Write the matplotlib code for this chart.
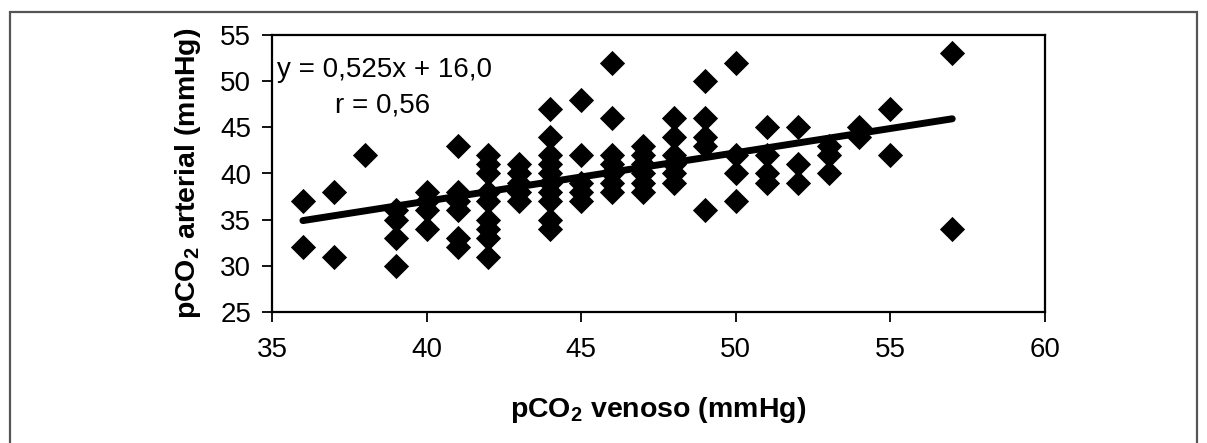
#!/usr/bin/env python3
"""pCO2 arterial vs venoso scatter with regression line."""
import matplotlib
matplotlib.use("Agg")
import matplotlib.pyplot as plt
from matplotlib.patches import Rectangle
import numpy as np

plt.rcParams.update({
    "font.family": ["Liberation Sans", "DejaVu Sans"],
    "mathtext.fontset": "custom",
    "mathtext.rm": "Liberation Sans",
    "mathtext.bf": "Liberation Sans:bold",
})

# venous pCO2 value of each column and the arterial values read in it
venoso = [36, 36, 37, 37, 38,
          39, 39, 39, 39,
          40, 40, 40, 40,
          41, 41, 41, 41, 41, 41,
          42, 42, 42, 42, 42, 42, 42, 42, 42,
          43, 43, 43, 43, 43,
          44, 44, 44, 44, 44, 44, 44, 44, 44, 44,
          45, 45, 45, 45, 45,
          46, 46, 46, 46, 46, 46, 46,
          47, 47, 47, 47, 47, 47,
          48, 48, 48, 48, 48, 48,
          49, 49, 49, 49, 49,
          50, 50, 50, 50,
          51, 51, 51, 51,
          52, 52, 52,
          53, 53, 53,
          54, 54,
          55, 55,
          57, 57]
arterial = [37, 32, 38, 31, 42,
            36, 35, 33, 30,
            38, 37, 36, 34,
            43, 38, 37, 36, 33, 32,
            42, 41, 40, 38, 37, 35, 34, 33, 31,
            41, 40, 39, 38, 37,
            47, 44, 42, 41, 40, 39, 38, 37, 35, 34,
            48, 42, 39, 38, 37,
            52, 46, 42, 41, 40, 39, 38,
            43, 42, 41, 40, 39, 38,
            46, 44, 42, 41, 40, 39,
            50, 46, 44, 43, 36,
            52, 42, 40, 37,
            45, 42, 40, 39,
            45, 41, 39,
            43, 42, 40,
            45, 44,
            47, 42,
            53, 34]

SLOPE = 0.525
INTERCEPT = 16.0
R_VALUE = "0,56"

x = np.array(venoso, dtype=float)
y = np.array(arterial, dtype=float)

fig = plt.figure(figsize=(12.07, 4.43), dpi=100)
ax = fig.add_axes([272 / 1207, 1 - 312 / 443, 773 / 1207, 277 / 443])

# outer frame round the whole figure
fig.patches.append(Rectangle((10 / 1207, -0.05), 1187 / 1207, 1.05 - 12 / 443,
                             transform=fig.transFigure, fill=False,
                             edgecolor="#555555", linewidth=1.6))

ax.scatter(x, y, marker="D", s=165, color="black", linewidths=0, zorder=3)
xl = np.array([x.min(), x.max()])
ax.plot(xl, SLOPE * xl + INTERCEPT, color="black", linewidth=5,
        solid_capstyle="round", zorder=4)

ax.set_xlim(35, 60)
ax.set_ylim(25, 55)
ax.set_xticks(np.arange(35, 61, 5))
ax.set_yticks(np.arange(25, 56, 5))
for s in ax.spines.values():
    s.set_linewidth(1.6)
ax.tick_params(axis="both", direction="out", length=7, width=1.3,
               labelsize=20)
ax.tick_params(axis="x", pad=11)
ax.tick_params(axis="y", pad=8)

ax.set_xlabel(r"pCO$_\mathbf{2}$ venoso (mmHg)", fontsize=20.5,
              fontweight="bold")
ax.set_ylabel(r"pCO$_\mathbf{2}$ arterial (mmHg)", fontsize=20.5,
              fontweight="bold")
ax.xaxis.set_label_coords(0.5, -0.355)
ax.yaxis.set_label_coords(-0.109, 0.5)
ax.xaxis.label.set_va("center")
ax.yaxis.label.set_va("center")

ax.text(0.007, 0.873, f"y = {SLOPE:.3f}x + {INTERCEPT:.1f}".replace(".", ","),
        transform=ax.transAxes, fontsize=20, va="center", ha="left")
ax.text(0.082, 0.747, f"r = {R_VALUE}", transform=ax.transAxes,
        fontsize=20, va="center", ha="left")

fig.savefig("out.png", dpi=100)
